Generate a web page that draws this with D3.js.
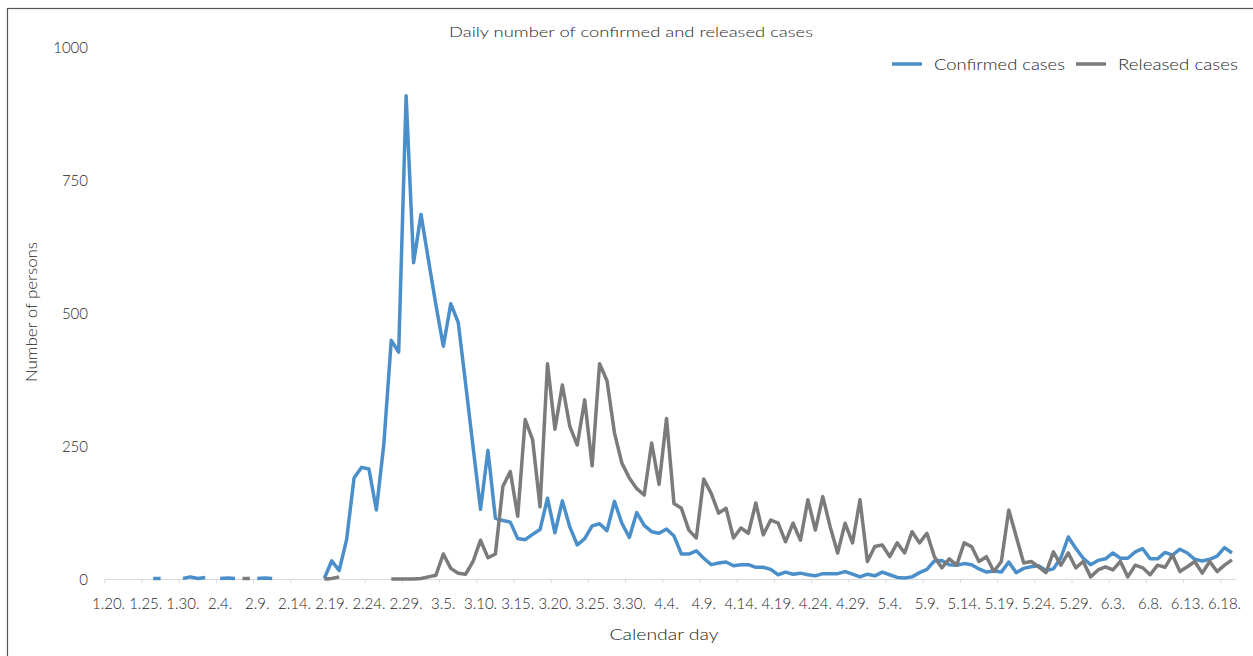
<!DOCTYPE html>
<html><head><meta charset="utf-8">
<script src="https://cdn.jsdelivr.net/npm/d3@7"></script>
<style>
html,body{margin:0;padding:0;background:#fff;}
svg text{font-family:Lato,"Open Sans",sans-serif;fill:#262626;font-weight:300;}
</style></head>
<body><svg id="chart" width="1253" height="656"></svg>
<script>
// ---------- DATA ----------
const monthDays = [[1,20,31],[2,1,29],[3,1,31],[4,1,30],[5,1,31],[6,1,19]];
const categories = [];
monthDays.forEach(([m,s,e]) => { for (let d = s; d <= e; d++) categories.push(m + "." + d + "."); });

const tickLabels = ["1.20.","1.25.","1.30.","2.4.","2.9.","2.14.","2.19.","2.24.","2.29.","3.5.","3.10.",
  "3.15.","3.20.","3.25.","3.30.","4.4.","4.9.","4.14.","4.19.","4.24.","4.29.","5.4.","5.9.","5.14.",
  "5.19.","5.24.","5.29.","6.3.","6.8.","6.13.","6.18."];

const yTicks = [0, 250, 500, 750, 1000];

const N = null;
// Jan 20 .. Jun 19 (152 days)
const confirmed = [
  N,N,N,N,N,N,1,1,N,N,            // 1.20-1.29
  1,4,1,3,N,1,2,1,N,N,            // 1.30-2.8
  1,2,1,N,N,N,N,N,N,1,            // 2.9-2.18
  34,16,74,190,210,207,130,253,449,427, // 2.19-2.28
  909,595,686,600,516,438,518,483,367,248, // 2.29-3.9
  131,242,114,110,107,76,74,84,93,152,     // 3.10-3.19
  87,147,98,64,76,100,104,91,146,105,      // 3.20-3.29
  78,125,101,89,86,94,81,47,47,53,         // 3.30-4.8
  39,27,30,32,25,27,27,22,22,18,           // 4.9-4.18
  8,13,9,11,8,6,10,10,10,14,               // 4.19-4.28
  9,4,9,6,13,8,3,2,4,12,                   // 4.29-5.8
  18,34,35,27,26,29,27,19,13,15,           // 5.9-5.18
  13,32,12,20,23,25,16,19,40,79,           // 5.19-5.28
  58,39,27,35,38,49,39,39,51,57,           // 5.29-6.7
  38,38,50,45,56,49,37,34,37,43,           // 6.8-6.17
  59,49                                    // 6.18-6.19
];
const released = [
  N,N,N,N,N,N,N,N,N,N,            // 1.20-1.29
  N,N,N,N,N,N,N,N,1,1,            // 1.30-2.8
  N,N,N,N,N,N,N,N,N,0,            // 2.9-2.18
  1,4,N,N,N,N,N,N,0,0,            // 2.19-2.28
  0,0,1,4,7,47,20,11,9,33,        // 2.29-3.9
  73,40,47,174,202,118,300,262,136,405,    // 3.10-3.19
  282,365,287,252,337,213,405,373,275,218, // 3.20-3.29
  190,170,158,256,178,302,142,133,92,77,   // 3.30-4.8
  188,161,124,133,77,96,86,143,83,111,     // 4.9-4.18
  105,70,105,73,149,92,155,98,49,105,      // 4.19-4.28
  68,149,33,61,64,42,68,49,89,68,          // 4.29-5.8
  86,42,21,38,26,68,61,33,42,14,           // 5.9-5.18
  33,130,80,30,33,23,12,51,26,49,          // 5.19-5.28
  21,33,4,17,23,17,33,4,26,21,             // 5.29-6.7
  8,26,22,45,14,23,33,11,33,14,            // 6.8-6.17
  26,36                                    // 6.18-6.19
];

const seriesNames = ["Confirmed cases", "Released cases"];
const seriesColors = ["#4a8fca", "#7b7b7c"];

// ---------- DRAW ----------
const svg = d3.select("#chart");

function fitWidth(sel, w) {
  sel.attr("textLength", w).attr("lengthAdjust", "spacingAndGlyphs");
}

// frame (open at the right edge, as in the cropped reference)
svg.append("rect").attr("x",7.5).attr("y",8.5).attr("width",1260).attr("height",680)
  .attr("fill","none").attr("stroke","#555").attr("stroke-width",1.2);

const x = d3.scaleBand().domain(d3.range(categories.length)).range([104.8, 1235.7]).padding(0);
const xc = i => x(i) + x.bandwidth()/2;
const y = d3.scaleLinear().domain([0, 1000]).range([579, 47.5]);

// x axis
const xAxis = d3.axisBottom(x)
  .tickValues(d3.range(0, categories.length, 5))
  .tickFormat((i, k) => tickLabels[k])
  .tickSize(0).tickPadding(0);
const gx = svg.append("g").attr("transform","translate(0,579)").call(xAxis);
gx.select(".domain").attr("stroke","#d9d9d9").attr("stroke-width",1.2);
gx.selectAll(".tick text").attr("font-size",15).attr("fill","#262626").attr("dy",null).attr("y",30)
  .style("font-family","Lato, sans-serif").style("font-weight",300);
// tick marks at category boundaries
svg.append("g").selectAll("line").data(d3.range(0, categories.length, 5)).join("line")
  .attr("x1", i => x(i)).attr("x2", i => x(i)).attr("y1", 579).attr("y2", 583)
  .attr("stroke","#d9d9d9").attr("stroke-width",1);

// y axis (labels only)
const yAxis = d3.axisLeft(y).tickValues(yTicks).tickFormat(d3.format("d")).tickSize(0).tickPadding(0);
const gy = svg.append("g").attr("transform","translate(88,0)").call(yAxis);
gy.select(".domain").remove();
gy.selectAll(".tick text").attr("font-size",15).attr("fill","#262626").attr("dy","0.36em")
  .style("font-family","Lato, sans-serif").style("font-weight",300);

// lines
const line = d3.line().defined(d => d != null).x((d,i) => xc(i)).y(d => y(d));
[confirmed, released].forEach((s, k) => {
  svg.append("path").datum(s).attr("d", line)
    .attr("fill","none").attr("stroke", seriesColors[k]).attr("stroke-width",3.5)
    .attr("stroke-linejoin","round").attr("stroke-linecap","butt");
});

// title
fitWidth(svg.append("text").attr("x",631).attr("y",37).attr("text-anchor","middle")
  .attr("font-size",14.5).text("Daily number of confirmed and released cases"), 364);

// legend
const legend = [
  {name: seriesNames[0], color: seriesColors[0], x1: 892, tx: 934, w: 131},
  {name: seriesNames[1], color: seriesColors[1], x1: 1076, tx: 1118, w: 120}
];
legend.forEach(l => {
  svg.append("line").attr("x1", l.x1).attr("x2", l.x1 + 30).attr("y1", 64).attr("y2", 64)
    .attr("stroke", l.color).attr("stroke-width", 3.5);
  fitWidth(svg.append("text").attr("x", l.tx).attr("y", 70).attr("font-size", 15.5).text(l.name), l.w);
});

// axis titles
fitWidth(svg.append("text").attr("x",664).attr("y",640).attr("text-anchor","middle")
  .attr("font-size",15.5).text("Calendar day"), 109);
fitWidth(svg.append("text").attr("transform","translate(37,312) rotate(-90)").attr("text-anchor","middle")
  .attr("font-size",15.5).text("Number of persons"), 140);
</script></body></html>
